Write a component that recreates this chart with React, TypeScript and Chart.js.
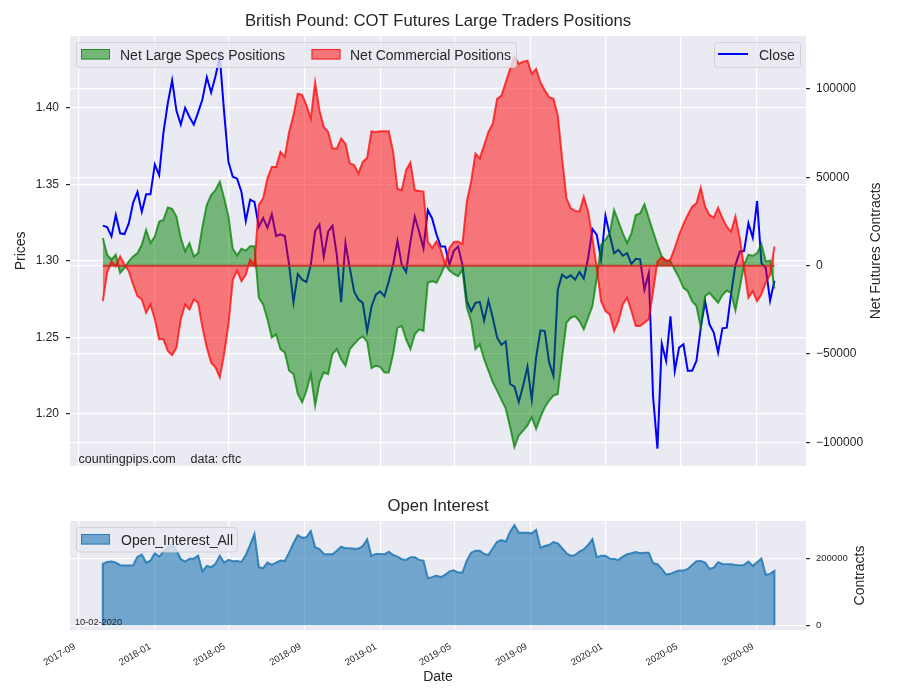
import React, { useEffect, useRef } from 'react';
import { Chart, registerables } from 'chart.js';

Chart.register(...registerables);

const FONT = '"Liberation Sans", Arial, Helvetica, sans-serif';
const TEXT = '#262626';
const PANEL_BG = '#EAEAF2';

const DATES = [
  '2017-10-10','2017-10-17','2017-10-24','2017-10-31','2017-11-07','2017-11-14','2017-11-21','2017-11-28','2017-12-05','2017-12-12','2017-12-19','2017-12-26',
  '2018-01-02','2018-01-09','2018-01-16','2018-01-23','2018-01-30','2018-02-06','2018-02-13','2018-02-20','2018-02-27','2018-03-06','2018-03-13','2018-03-20','2018-03-27',
  '2018-04-03','2018-04-10','2018-04-17','2018-04-24','2018-05-01','2018-05-08','2018-05-15','2018-05-22','2018-05-29','2018-06-05','2018-06-12','2018-06-19','2018-06-26',
  '2018-07-03','2018-07-10','2018-07-17','2018-07-24','2018-07-31','2018-08-07','2018-08-14','2018-08-21','2018-08-28','2018-09-04','2018-09-11','2018-09-18','2018-09-25',
  '2018-10-02','2018-10-09','2018-10-16','2018-10-23','2018-10-30','2018-11-06','2018-11-13','2018-11-20','2018-11-27','2018-12-04','2018-12-11','2018-12-18','2018-12-25',
  '2019-01-01','2019-01-08','2019-01-15','2019-01-22','2019-01-29','2019-02-05','2019-02-12','2019-02-19','2019-02-26','2019-03-05','2019-03-12','2019-03-19','2019-03-26',
  '2019-04-02','2019-04-09','2019-04-16','2019-04-23','2019-04-30','2019-05-07','2019-05-14','2019-05-21','2019-05-28','2019-06-04','2019-06-11','2019-06-18','2019-06-25',
  '2019-07-02','2019-07-09','2019-07-16','2019-07-23','2019-07-30','2019-08-06','2019-08-13','2019-08-20','2019-08-27','2019-09-03','2019-09-10','2019-09-17','2019-09-24',
  '2019-10-01','2019-10-08','2019-10-15','2019-10-22','2019-10-29','2019-11-05','2019-11-12','2019-11-19','2019-11-26','2019-12-03','2019-12-10','2019-12-17','2019-12-24','2019-12-31',
  '2020-01-07','2020-01-14','2020-01-21','2020-01-28','2020-02-04','2020-02-11','2020-02-18','2020-02-25','2020-03-03','2020-03-10','2020-03-17','2020-03-24','2020-03-31',
  '2020-04-07','2020-04-14','2020-04-21','2020-04-28','2020-05-05','2020-05-12','2020-05-19','2020-05-26','2020-06-02','2020-06-09','2020-06-16','2020-06-23','2020-06-30',
  '2020-07-07','2020-07-14','2020-07-21','2020-07-28','2020-08-04','2020-08-11','2020-08-18','2020-08-25','2020-09-01','2020-09-08','2020-09-15','2020-09-22','2020-09-29',
];

const CLOSE = [
  1.323,1.322,1.316,1.330,1.318,1.3175,1.3245,1.338,1.345,1.332,
  1.3435,1.3435,1.363,1.356,1.384,1.403,1.418,1.398,1.389,1.400,
  1.394,1.389,1.397,1.4056,1.420,1.410,1.4207,1.4335,1.397,1.3645,
  1.355,1.3537,1.345,1.326,1.340,1.3385,1.3223,1.328,1.3216,1.3305,
  1.3162,1.3173,1.3162,1.2974,1.2729,1.2914,1.2877,1.2862,1.2974,1.3195,
  1.3238,1.3028,1.319,1.3229,1.3039,1.2729,1.3115,1.2953,1.280,1.2747,
  1.2725,1.254,1.270,1.2779,1.280,1.2768,1.2866,1.2974,1.313,1.2974,
  1.2927,1.3125,1.3288,1.319,1.3082,1.3331,1.3277,1.3173,1.3093,1.3093,
  1.2974,1.3065,1.3093,1.2974,1.2736,1.2671,1.2725,1.2732,1.2611,1.274,
  1.2628,1.2498,1.2452,1.2474,1.2195,1.2178,1.2077,1.2184,1.2308,1.2091,
  1.2369,1.2546,1.2541,1.2336,1.2249,1.2812,1.2909,1.2888,1.2905,1.2877,
  1.2927,1.2883,1.3018,1.3208,1.3169,1.3006,1.3294,1.3169,1.305,1.3071,
  1.3034,1.305,1.2979,1.3013,1.301,1.2812,1.292,1.2109,1.1773,1.2459,
  1.2346,1.2638,1.2281,1.2433,1.2455,1.2281,1.2281,1.2346,1.2563,1.2736,
  1.2585,1.2531,1.240,1.2559,1.2563,1.2784,1.2974,1.306,1.3065,1.3245,
  1.3151,1.339,1.2985,1.2953,1.274,1.287,
];

const NET_LARGE_SPECS = [
  15600,6200,3400,6200,-4100,-1300,2400,5200,7100,11800,
  20300,12800,16500,25000,25900,32900,32100,27800,15600,8100,
  12800,5200,7100,22100,34400,40000,42800,47500,38100,27800,
  9500,5800,9500,8500,11000,11000,-18200,-22000,-30400,-40700,
  -38900,-47300,-49200,-59500,-61400,-72700,-77400,-70800,-61400,-79300,
  -66100,-60500,-61400,-50100,-47300,-53000,-56700,-47300,-44500,-41700,
  -40000,-43000,-58000,-56700,-57300,-60500,-60500,-50100,-35100,-34200,
  -41700,-47300,-38900,-36100,-37000,-9700,-8800,-9700,-5100,600,
  -2800,-4700,-6000,-2300,-23800,-31400,-47300,-44500,-53000,-59500,
  -66100,-70800,-76000,-81000,-91400,-102700,-96200,-93400,-90500,-85800,
  -92400,-85800,-80200,-76400,-73600,-72700,-52000,-32300,-29500,-28600,
  -31400,-36100,-29500,-22900,-6900,11800,14600,18400,31500,25000,
  18400,12800,18400,28700,29500,34800,26900,19300,11800,5200,
  2800,2400,-2300,-6900,-12600,-14500,-20100,-22900,-35100,-17300,
  -15400,-18200,-21000,-16700,-14100,-15400,-25400,-12600,600,6200,
  5600,7100,12200,2400,2800,-13000,
];

const NET_COMMERCIAL = [
  -20100,-4100,2400,-400,5200,600,-3200,-10700,-17300,-19200,
  -26700,-22000,-30400,-41700,-41700,-48300,-50700,-46400,-30400,-22000,
  -24800,-19200,-21000,-35100,-46400,-54800,-57600,-63300,-50100,-33200,
  -8000,-2800,-8800,-5100,3400,0,34400,38100,49400,55900,
  55900,64400,61600,75700,85100,97300,96700,90700,83200,103800,
  87900,78500,75700,66300,66300,71900,69100,57900,56900,52200,
  58800,61000,76000,75700,76100,76100,76100,64400,43400,42800,
  54100,58400,42800,42300,41900,13700,10000,13700,9000,600,
  10000,13400,13700,12200,36200,47500,63500,60700,68200,75700,
  80400,94500,96300,103800,111400,118500,114200,115500,116100,108600,
  111400,103800,99200,95400,94500,85100,60700,38100,32500,31000,
  30600,39000,30600,15600,-1300,-20100,-25700,-27600,-37000,-31400,
  -22000,-18200,-25700,-34200,-34200,-32300,-30400,-14500,2400,4700,
  2800,3400,10000,17500,23500,28700,33400,35300,44100,33400,
  28700,27200,32800,26900,22100,19300,27800,15600,-1300,-18200,
  -14500,-20100,-16300,-9700,-5100,10900,
];

const OPEN_INTEREST = [
  183100,189000,190000,187000,179200,178000,178000,179200,204700,210700,
  187000,192900,214800,204700,219600,232600,239500,224600,197000,190000,
  198800,198800,207700,160200,177200,173300,183100,207700,187000,195000,
  191100,192000,189000,209800,239500,272100,173300,170300,187000,180100,
  187000,192900,192000,216600,244500,269100,261100,262300,281000,232600,
  227600,212800,211900,211900,222600,234400,229700,229700,228500,228500,
  236500,256400,206800,212800,212800,211900,219600,209800,204700,197000,
  195000,203000,203000,195000,192900,140700,143600,148400,143600,150400,
  161000,164000,157300,157300,192900,216600,222600,222600,212800,209800,
  229700,249300,254300,249300,278900,298800,276000,276000,276000,274200,
  284000,231500,236500,239500,248400,244500,229700,214800,206800,209800,
  219600,226700,239500,257300,203000,207700,207700,198800,197900,195000,
  204700,211900,214800,218700,214800,216600,216600,185200,182200,168200,
  151300,153400,159300,163200,163200,168200,180100,191100,192000,187000,
  168200,172100,188100,183100,182200,182200,180100,178000,180100,190000,
  177200,188100,198800,150400,153400,162300,
];

const X_TICK_LABELS = ['2017-09','2018-01','2018-05','2018-09','2019-01','2019-05','2019-09','2020-01','2020-05','2020-09'];
const X_RANGE = ['2017-08-18', '2020-11-19'];
const PRICE_TICKS = [1.20, 1.25, 1.30, 1.35, 1.40];
const PRICE_RANGE = [1.16604, 1.44695];
const NET_TICKS = [-100000, -50000, 0, 50000, 100000];
const NET_RANGE = [-113350, 130030];
const OI_TICKS = [0, 200000];
const OI_RANGE = [-14000, 311000];
const REPORT_DATE = '10-02-2020';

const toDay = (s: string) =>
  Date.UTC(+s.slice(0, 4), +s.slice(5, 7) - 1, s.length > 7 ? +s.slice(8, 10) : 1) / 86400000;

const minusFmt = (v: number) => (v < 0 ? '\u2212' + Math.abs(v) : String(v));

const GREEN_FILL = 'rgba(0,128,0,0.5)';
const GREEN_LINE = 'rgba(0,128,0,0.72)';
const RED_FILL = 'rgba(255,0,0,0.5)';
const RED_LINE = 'rgba(255,0,0,0.72)';
const OI_FILL = 'rgba(31,119,180,0.6)';
const OI_LINE = 'rgba(31,119,180,0.85)';

const bgPlugin = {
  id: 'panelBg',
  beforeDraw(chart: any) {
    const { ctx, chartArea } = chart;
    ctx.save();
    ctx.fillStyle = PANEL_BG;
    ctx.fillRect(chartArea.left, chartArea.top, chartArea.right - chartArea.left, chartArea.bottom - chartArea.top);
    ctx.restore();
  },
};

function text(ctx: CanvasRenderingContext2D, s: string, x: number, y: number, size: number,
  align: CanvasTextAlign = 'left', baseline: CanvasTextBaseline = 'alphabetic', rot = 0) {
  ctx.save();
  ctx.font = `${size}px ${FONT}`;
  ctx.fillStyle = TEXT;
  ctx.textAlign = align;
  ctx.textBaseline = baseline;
  ctx.translate(x, y);
  if (rot) ctx.rotate(rot);
  ctx.fillText(s, 0, 0);
  ctx.restore();
}

function legendBox(ctx: CanvasRenderingContext2D, x: number, y: number, w: number, h: number) {
  ctx.save();
  ctx.beginPath();
  const r = 3;
  ctx.moveTo(x + r, y);
  ctx.lineTo(x + w - r, y);
  ctx.quadraticCurveTo(x + w, y, x + w, y + r);
  ctx.lineTo(x + w, y + h - r);
  ctx.quadraticCurveTo(x + w, y + h, x + w - r, y + h);
  ctx.lineTo(x + r, y + h);
  ctx.quadraticCurveTo(x, y + h, x, y + h - r);
  ctx.lineTo(x, y + r);
  ctx.quadraticCurveTo(x, y, x + r, y);
  ctx.closePath();
  ctx.fillStyle = 'rgba(234,234,242,0.8)';
  ctx.fill();
  ctx.strokeStyle = 'rgba(204,204,204,0.8)';
  ctx.lineWidth = 1;
  ctx.stroke();
  ctx.restore();
}

function patch(ctx: CanvasRenderingContext2D, x: number, y: number, w: number, h: number, fill: string, line: string) {
  ctx.save();
  ctx.fillStyle = fill;
  ctx.fillRect(x, y, w, h);
  ctx.strokeStyle = line;
  ctx.lineWidth = 1;
  ctx.strokeRect(x + 0.5, y + 0.5, w - 1, h - 1);
  ctx.restore();
}

const topOverlay = {
  id: 'topOverlay',
  afterDraw(chart: any) {
    const ctx = chart.ctx as CanvasRenderingContext2D;
    const ca = chart.chartArea;
    const cx = (ca.left + ca.right) / 2;
    const cy = (ca.top + ca.bottom) / 2;
    text(ctx, 'British Pound: COT Futures Large Traders Positions', cx, 21, 16.7, 'center', 'middle');
    text(ctx, 'Prices', 21, cy, 14, 'center', 'middle', -Math.PI / 2);
    text(ctx, 'Net Futures Contracts', 876, cy, 14, 'center', 'middle', -Math.PI / 2);
    // left legend
    legendBox(ctx, 76.5, 42.5, 440, 25);
    patch(ctx, 81, 49, 29, 10.5, GREEN_FILL, GREEN_LINE);
    text(ctx, 'Net Large Specs Positions', 120, 59.5, 14);
    patch(ctx, 311.5, 49, 29, 10.5, RED_FILL, RED_LINE);
    text(ctx, 'Net Commercial Positions', 350, 59.5, 14);
    // right legend
    legendBox(ctx, 714.5, 42.5, 86, 25);
    ctx.save();
    ctx.strokeStyle = '#0000ff';
    ctx.lineWidth = 2;
    ctx.beginPath();
    ctx.moveTo(718, 54);
    ctx.lineTo(748, 54);
    ctx.stroke();
    ctx.restore();
    text(ctx, 'Close', 759, 59.5, 14);
    // watermark
    text(ctx, 'countingpips.com', 78.5, 462.5, 12.5);
    text(ctx, 'data: cftc', 190.5, 462.5, 12.5);
  },
};

const bottomOverlay = {
  id: 'bottomOverlay',
  afterDraw(chart: any) {
    const ctx = chart.ctx as CanvasRenderingContext2D;
    const ca = chart.chartArea;
    const cx = (ca.left + ca.right) / 2;
    const cy = (ca.top + ca.bottom) / 2;
    text(ctx, 'Open Interest', cx, 26, 16.7, 'center', 'middle');
    text(ctx, 'Contracts', 860, cy, 14, 'center', 'middle', -Math.PI / 2);
    text(ctx, 'Date', cx, 197, 14, 'center', 'middle');
    legendBox(ctx, 76.5, 47.5, 161, 24.5);
    patch(ctx, 81, 54, 29, 10.5, OI_FILL, OI_LINE);
    text(ctx, 'Open_Interest_All', 121, 64.5, 14);
    text(ctx, REPORT_DATE, 75, 145, 9.2);
  },
};

export default function App() {
  const topRef = useRef<HTMLCanvasElement | null>(null);
  const botRef = useRef<HTMLCanvasElement | null>(null);

  useEffect(() => {
    Chart.defaults.font.family = FONT;
    const xs = DATES.map(toDay);
    const xMin = toDay(X_RANGE[0]);
    const xMax = toDay(X_RANGE[1]);
    const xTicks = X_TICK_LABELS.map((l) => ({ value: toDay(l), label: l }));

    const top = new Chart(topRef.current as HTMLCanvasElement, {
      type: 'line',
      data: {
        datasets: [
          {
            label: 'Close',
            data: xs.map((x, i) => ({ x, y: CLOSE[i] })),
            yAxisID: 'y',
            borderColor: '#0000ff',
            borderWidth: 2,
            pointRadius: 0,
            fill: false,
            tension: 0,
            order: 4,
          },
          {
            label: 'Net Large Specs Positions',
            data: xs.map((x, i) => ({ x, y: NET_LARGE_SPECS[i] })),
            yAxisID: 'y1',
            borderColor: GREEN_LINE,
            backgroundColor: GREEN_FILL,
            borderWidth: 2,
            pointRadius: 0,
            fill: 'origin',
            tension: 0,
            order: 3,
          },
          {
            label: 'Net Commercial Positions',
            data: xs.map((x, i) => ({ x, y: NET_COMMERCIAL[i] })),
            yAxisID: 'y1',
            borderColor: RED_LINE,
            backgroundColor: RED_FILL,
            borderWidth: 2,
            pointRadius: 0,
            fill: 'origin',
            tension: 0,
            order: 2,
          },
          {
            label: 'baseline',
            data: xs.map((x) => ({ x, y: 0 })),
            yAxisID: 'y1',
            borderColor: 'rgba(195,45,30,0.85)',
            borderWidth: 2,
            pointRadius: 0,
            fill: false,
            order: 1,
          },
        ],
      } as any,
      options: {
        animation: false,
        responsive: false,
        maintainAspectRatio: false,
        events: [],
        layout: { padding: { top: 36, left: 0, right: 0, bottom: 0 } },
        plugins: {
          legend: { display: false },
          tooltip: { enabled: false },
          title: { display: false },
          filler: { drawTime: 'beforeDatasetDraw' },
        } as any,
        scales: {
          x: {
            type: 'linear',
            min: xMin,
            max: xMax,
            position: 'bottom',
            grid: { color: '#ffffff', lineWidth: 1.2, drawTicks: false },
            border: { display: false },
            ticks: { display: false },
            afterBuildTicks: (s: any) => { s.ticks = xTicks.map((t) => ({ value: t.value })); },
            afterFit: (s: any) => { s.height = 12; s.paddingLeft = 0; s.paddingRight = 0; },
          },
          y: {
            type: 'linear',
            position: 'left',
            min: PRICE_RANGE[0],
            max: PRICE_RANGE[1],
            grid: { color: '#ffffff', lineWidth: 1.2, tickColor: TEXT, tickLength: 4 },
            border: { display: false },
            ticks: {
              color: TEXT,
              font: { size: 12, family: FONT },
              padding: 7,
              callback: (v: any) => Number(v).toFixed(2),
            },
            afterBuildTicks: (s: any) => { s.ticks = PRICE_TICKS.map((v) => ({ value: v })); },
            afterFit: (s: any) => { s.width = 70; },
          },
          y1: {
            type: 'linear',
            position: 'right',
            min: NET_RANGE[0],
            max: NET_RANGE[1],
            grid: { color: '#ffffff', lineWidth: 1.2, tickColor: TEXT, tickLength: 4 },
            border: { display: false },
            ticks: {
              color: TEXT,
              font: { size: 12, family: FONT },
              padding: 6,
              callback: (v: any) => minusFmt(Number(v)),
            },
            afterBuildTicks: (s: any) => { s.ticks = NET_TICKS.map((v) => ({ value: v })); },
            afterFit: (s: any) => { s.width = 94; },
          },
        },
      } as any,
      plugins: [bgPlugin, topOverlay],
    });

    const oiPoints = [
      { x: xs[0], y: 0 },
      ...xs.map((x, i) => ({ x, y: OPEN_INTEREST[i] })),
      { x: xs[xs.length - 1], y: 0 },
    ];

    const bottom = new Chart(botRef.current as HTMLCanvasElement, {
      type: 'line',
      data: {
        datasets: [
          {
            label: 'Open_Interest_All',
            data: oiPoints,
            borderColor: OI_LINE,
            backgroundColor: OI_FILL,
            borderWidth: 2,
            pointRadius: 0,
            fill: 'origin',
            tension: 0,
          },
        ],
      } as any,
      options: {
        animation: false,
        responsive: false,
        maintainAspectRatio: false,
        events: [],
        layout: { padding: { top: 41, left: 70, right: 0, bottom: 0 } },
        plugins: {
          legend: { display: false },
          tooltip: { enabled: false },
          title: { display: false },
        },
        scales: {
          x: {
            type: 'linear',
            min: xMin,
            max: xMax,
            position: 'bottom',
            grid: { color: '#ffffff', lineWidth: 1.2, drawTicks: false },
            border: { display: false },
            ticks: {
              color: TEXT,
              font: { size: 9.5, family: FONT },
              minRotation: 30,
              maxRotation: 30,
              autoSkip: false,
              padding: 11,
              labelOffset: -4,
              callback: (v: any) => {
                const t = xTicks.find((k) => Math.abs(k.value - Number(v)) < 0.5);
                return t ? t.label : '';
              },
            },
            afterBuildTicks: (s: any) => { s.ticks = xTicks.map((t) => ({ value: t.value })); },
            afterFit: (s: any) => { s.height = 70; s.paddingLeft = 0; s.paddingRight = 0; },
          },
          y: {
            type: 'linear',
            position: 'right',
            min: OI_RANGE[0],
            max: OI_RANGE[1],
            grid: { color: '#ffffff', lineWidth: 1.2, tickColor: TEXT, tickLength: 4 },
            border: { display: false },
            ticks: {
              color: TEXT,
              font: { size: 9.5, family: FONT },
              padding: 6,
              callback: (v: any) => String(v),
            },
            afterBuildTicks: (s: any) => { s.ticks = OI_TICKS.map((v) => ({ value: v })); },
            afterFit: (s: any) => { s.width = 94; },
          },
        },
      } as any,
      plugins: [bgPlugin, bottomOverlay],
    });

    return () => {
      top.destroy();
      bottom.destroy();
    };
  }, []);

  return (
    <div style={{ position: 'fixed', left: 0, top: 0, width: 900, height: 700, background: '#ffffff' }}>
      <canvas ref={topRef} width={900} height={480} style={{ position: 'absolute', left: 0, top: 0 }} />
      <canvas ref={botRef} width={900} height={220} style={{ position: 'absolute', left: 0, top: 480 }} />
    </div>
  );
}
